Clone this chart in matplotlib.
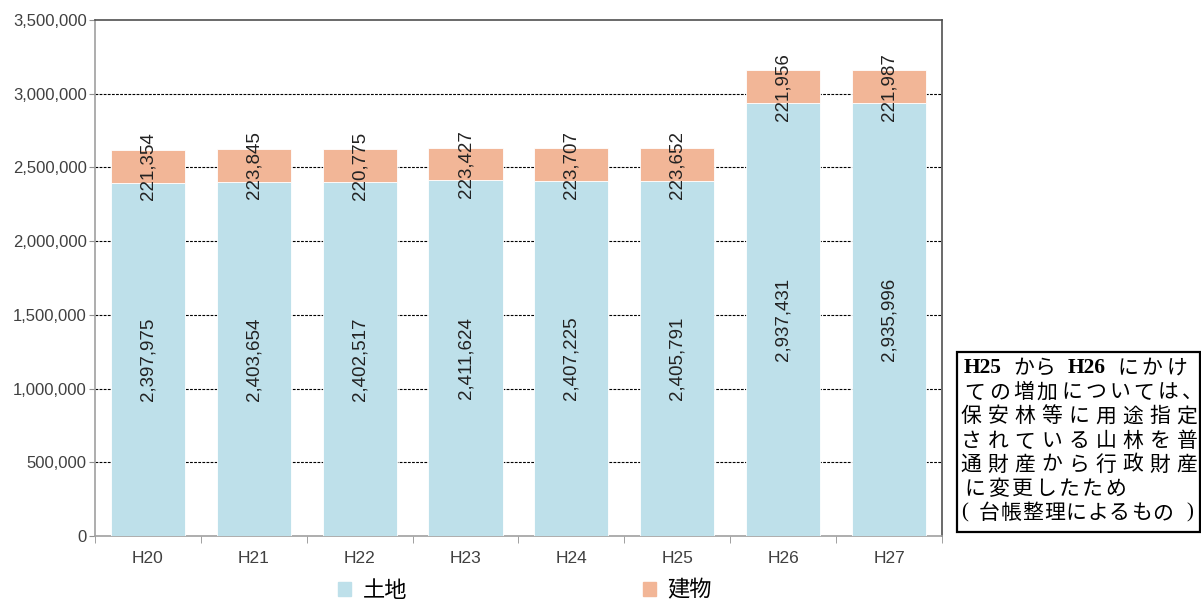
import matplotlib
matplotlib.use("Agg")
import matplotlib.pyplot as plt
from matplotlib.patches import Patch, Rectangle
from matplotlib.ticker import FuncFormatter, MultipleLocator, FixedLocator

# data
years = ["H20", "H21", "H22", "H23", "H24", "H25", "H26", "H27"]
land = [2397975, 2403654, 2402517, 2411624, 2407225, 2405791, 2937431, 2935996]
building = [221354, 223845, 220775, 223427, 223707, 223652, 221956, 221987]

note_lines = [
    "ての増加については、",
    "保安林等に用途指定",
    "されている山林を普",
    "通財産から行政財産",
    "に変更したため",
]
note_last = "台帳整理によるもの"

c_land = "#BEE0EA"
c_bld = "#F2B697"

plt.rcParams["font.family"] = ["Liberation Sans", "Noto Sans CJK JP"]

fig = plt.figure(figsize=(12.01, 6.01), dpi=100)
ax = fig.add_axes([0.0791, 0.108, 0.7052, 0.8587])

x = list(range(len(years)))
ax.bar(x, land, width=0.70, color=c_land, edgecolor="white", linewidth=0.6, zorder=3)
ax.bar(x, building, width=0.70, bottom=land, color=c_bld, edgecolor="white",
       linewidth=0.6, zorder=3)

for i in x:
    ax.text(i, land[i] / 2, f"{land[i]:,}", rotation=90, ha="center", va="center",
            fontsize=13.5, color="#222222", zorder=4)
    ax.text(i, land[i] + building[i] / 2, f"{building[i]:,}", rotation=90,
            ha="center", va="center", fontsize=13.5, color="#222222", zorder=4)

ax.set_xlim(-0.5, 7.5)
ax.set_ylim(0, 3500000)
ax.yaxis.set_major_locator(MultipleLocator(500000))
ax.yaxis.set_major_formatter(FuncFormatter(lambda v, p: f"{int(v):,}"))
ax.set_xticks(x)
ax.set_xticklabels(years)
ax.xaxis.set_minor_locator(FixedLocator([i - 0.5 for i in range(len(years) + 1)]))
ax.tick_params(axis="x", which="major", length=0, pad=11, labelsize=12.5, labelcolor="#404040")
ax.tick_params(axis="x", which="minor", length=5, color="#909090", direction="out")
ax.tick_params(axis="y", length=4, color="#909090", pad=2, labelsize=12, labelcolor="#404040")

for v in range(500000, 3500000, 500000):
    ax.axhline(v, color="black", linestyle=(0, (2.5, 1.2)), linewidth=0.8, zorder=1)

ax.spines["left"].set_color("#A0A0A0")
ax.spines["bottom"].set_color("#A0A0A0")
ax.spines["top"].set_color("#505050")
ax.spines["right"].set_color("#505050")
for s in ax.spines.values():
    s.set_linewidth(1.2)

handles = [Patch(color=c_land, label="土地"), Patch(color=c_bld, label="建物")]
fig.legend(handles=handles, loc="center", bbox_to_anchor=(0.437, 0.018), ncol=2,
           frameon=False, handlelength=0.6, handleheight=0.6,
           handletextpad=0.5, columnspacing=10.6,
           prop={"family": ["Noto Sans CJK JP"], "size": 16})

# note box on the right
W, H = 1201.0, 601.0
fig.patches.append(Rectangle((957 / W, 1 - 532 / H), (1200 - 957) / W, (532 - 352) / H,
                             transform=fig.transFigure, fill=False,
                             edgecolor="black", linewidth=1.6))

note_font = ["Noto Sans CJK JP"]
serif = ["Liberation Serif", "Noto Sans CJK JP"]
y0 = 368
pitch_y = 24.2

# first line: mixed Latin and kana
for seg, lx in [("H25", 964), ("H26", 1068)]:
    fig.text(lx / W, 1 - y0 / H, seg, ha="left", va="center", fontsize=15.5,
             family=serif, fontweight="semibold")
for ch, cx in [("か", 1024), ("ら", 1045), ("に", 1128), ("か", 1152), ("け", 1177)]:
    fig.text(cx / W, 1 - y0 / H, ch, ha="center", va="center", fontsize=15,
             family=note_font)

spans = [(975, 1192), (971, 1187), (971, 1187), (971, 1187), (975, None)]
for k, (line, (xa, xb)) in enumerate(zip(note_lines, spans)):
    yy = 1 - (y0 + (k + 1) * pitch_y) / H
    n = len(line)
    step = 23.5 if xb is None else (xb - xa) / (n - 1)
    for j, ch in enumerate(line):
        fig.text((xa + j * step) / W, yy, ch, ha="center", va="center",
                 fontsize=15, family=note_font)

# last line with parentheses
yy = 1 - (y0 + 6 * pitch_y) / H
fig.text(961 / W, yy, "(", ha="left", va="center", fontsize=15, family=serif)
step = (1163 - 989) / (len(note_last) - 1)
for j, ch in enumerate(note_last):
    fig.text((989 + j * step) / W, yy, ch, ha="center", va="center",
             fontsize=15, family=note_font)
fig.text(1193 / W, yy, ")", ha="right", va="center", fontsize=15, family=serif)

fig.savefig("out.png", dpi=100)
